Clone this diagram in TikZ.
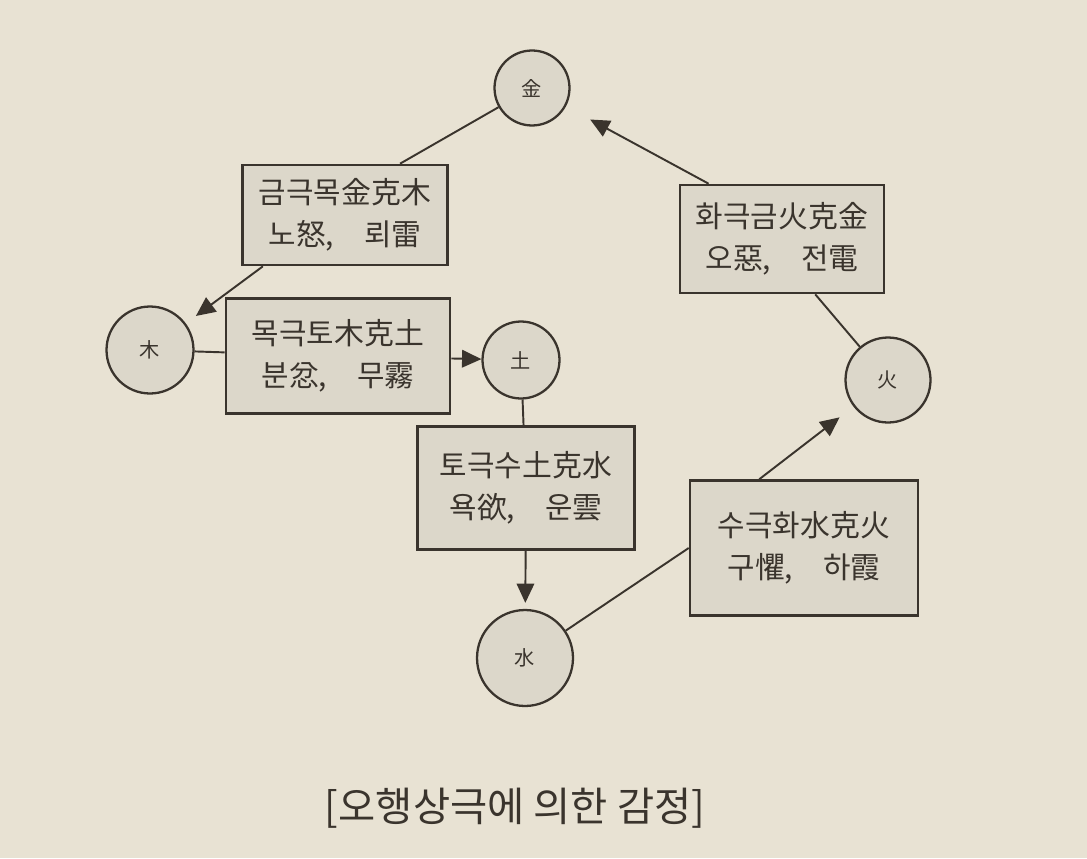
\documentclass[tikz,border=0pt]{standalone}
\usepackage{fontspec}
\setmainfont{Noto Sans CJK KR}
\usetikzlibrary{arrows.meta}
\definecolor{paper}{HTML}{E8E2D3}
\definecolor{shade}{HTML}{DCD7CA}
\definecolor{ink}{HTML}{3A342D}

\begin{document}
\begin{tikzpicture}[
  x=0.02cm, y=-0.02cm,
  font=\fontsize{17}{24}\selectfont,
  elem/.style={circle, draw=ink, line width=1.3pt, fill=shade, inner sep=0pt, font=\fontsize{11.5}{12}\selectfont, text=ink},
  rule/.style={draw=ink, line width=1.5pt, fill=shade, align=center, inner sep=0pt, text=ink},
  link/.style={draw=ink, line width=1.1pt},
  push/.style={link, -{Triangle[length=11pt,width=10pt]}}
]

\fill[paper] (0,0) rectangle (1087,858);

% five elements
\node[elem, minimum size=1.5cm] (jin) at (532,88) {金};
\node[elem, minimum size=1.74cm] (mok) at (150,350) {木};
\node[elem, minimum size=1.54cm] (to) at (521,360) {土};
\node[elem, minimum size=1.92cm] (sui) at (525,658) {水};
\node[elem, minimum size=1.7cm] (hwa) at (888,380) {火};

% overcoming relations
\node[rule, minimum width=4.1cm, minimum height=2cm] (jk) at (345,215) {금극목金克木\\노怒,\quad 뢰雷};
\node[rule, minimum width=4.08cm, minimum height=2.16cm] (hk) at (782,239) {화극금火克金\\오惡,\quad 전電};
\node[rule, minimum width=4.48cm, minimum height=2.3cm] (mk) at (338,356) {목극토木克土\\분忿,\quad 무霧};
\node[rule, minimum width=4.34cm, minimum height=2.46cm] (tk) at (526,488) {토극수土克水\\욕欲,\quad 운雲};
\node[rule, minimum width=4.56cm, minimum height=2.7cm] (sk) at (804,548) {수극화水克火\\구懼,\quad 하霞};

\node[font=\fontsize{23}{26}\selectfont, text=ink] (cap) at (515,808) {[오행상극에 의한 감정]};

\draw[link] (jin) -- (jk.43);
\draw[push, shorten >=0.25cm] (jk.212) -- (mok);
\draw[link] (mok) -- (mk);
\draw[push] (mk) -- (to);
\draw[link] (to) -- (tk);
\draw[push, shorten >=0.12cm] (tk) -- (sui);
\draw[link] (sui) -- (sk.west);
\draw[push, shorten >=0.35cm] (sk.123) -- (hwa);
\draw[link] (hwa) -- (hk.-59);
\draw[push, shorten >=0.55cm] (hk.143) -- (jin);

\end{tikzpicture}
\end{document}
